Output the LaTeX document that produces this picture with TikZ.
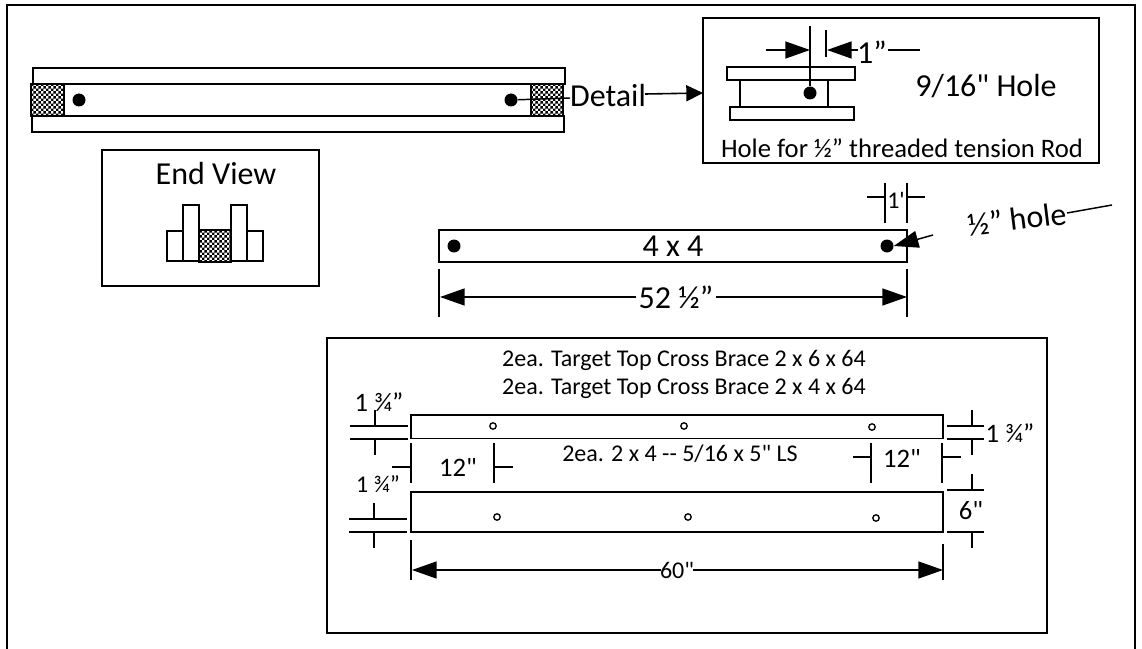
\documentclass[tikz,border=0pt]{standalone}
\usepackage{fontspec}
\newfontfamily\cf{Carlito}
\usetikzlibrary{arrows.meta,patterns}
\pgfdeclarepatternformonly{chk}{\pgfpointorigin}{\pgfqpoint{4pt}{4pt}}{\pgfqpoint{4pt}{4pt}}{
  \pgfpathrectangle{\pgfqpoint{0pt}{0pt}}{\pgfqpoint{2pt}{2pt}}
  \pgfpathrectangle{\pgfqpoint{2pt}{2pt}}{\pgfqpoint{2pt}{2pt}}
  \pgfusepath{fill}}
\tikzset{
  ln/.style={line width=1.2pt,black},
  thin ln/.style={line width=1.1pt,black},
  frame/.style={line width=1.5pt,black},
  tip/.style={-{Triangle[length=18.5pt,width=12.75pt]}},
  box/.style={draw,line width=1.4pt,inner sep=0pt,outer sep=0pt,fill=white},
  chkbox/.style={box,pattern=chk},
  txtA/.style={font=\cf\fontsize{24}{28}\selectfont,inner sep=0pt},
  txtB/.style={font=\cf\fontsize{20}{24}\selectfont,inner sep=0pt},
  txtC/.style={font=\cf\fontsize{18}{22}\selectfont,inner sep=0pt},
  dot/.style={circle,fill=black,inner sep=0pt,minimum size=9.75pt},
  hole/.style={circle,draw,line width=1pt,fill=white,inner sep=0pt,minimum size=4.8pt},
}
\newcommand{\rc}[6][box]{\node[#1,minimum width={(#5-#3)*0.75pt},minimum height={(#6-#4)*0.75pt}] (#2) at ({(#3+#5)/2},{(#4+#6)/2}) {};}
\newcommand{\vl}[3]{\draw[thin ln] (#1,#2) -- (#1,#3);}
\begin{document}
\begin{tikzpicture}[x=0.75pt,y=-0.75pt]
\useasboundingbox (0,0) rectangle (1142,649);
% outer frame
\draw[frame] (7,649) -- (7,5.5) -- (1135,5.5) -- (1135,649);
% top assembly
\rc{railA}{33}{68}{565}{84}
\rc{railB}{32}{116}{564}{132}
\rc{mid}{31}{84}{563}{116}
\rc[chkbox]{chkL}{31}{84}{64}{116}
\rc[chkbox]{chkR}{531}{84}{563}{116}
\node[dot] (dotL) at (79,100) {};
\node[dot] (dotR) at (511,100) {};
\node[txtA] (detail) at (608,96) {Detail};
\coordinate (detailIn) at (570,98);
\draw[thin ln] (dotR) -- (detailIn);
% detail box
\rc{dbox}{703}{18}{1099}{163}
\rc{dtop}{727}{67}{855}{80}
\rc{dmid}{740}{80}{828}{107}
\rc{dbot}{730}{107}{854}{120}
\node[dot] (ddot) at (810,93) {};
\coordinate (detailOut) at (645,94);
\draw[ln,-{Triangle[length=12.5pt,width=12pt]}] (detailOut) -- (dbox.west |- 0,93);
\coordinate (d1a) at (810,26);
\coordinate (d1b) at (826,30);
\coordinate (d1c) at (826,57);
\draw[thin ln] (d1a) -- (ddot);
\draw[thin ln] (d1b) -- (d1c);
\coordinate (d2a) at (766,50);
\coordinate (d2b) at (810,50);
\draw[thin ln,tip] (d2a) -- (d2b);
\node[txtA] (one) at (872,52) {1”};
\coordinate (d3a) at (858,50);
\coordinate (d3b) at (827,50);
\draw[thin ln,tip] (d3a) -- (d3b);
\coordinate (d4a) at (888,50);
\coordinate (d4b) at (920,50);
\draw[thin ln] (d4a) -- (d4b);
\node[txtA] (nine) at (986,86) {9/16" Hole};
\node[txtB] (holefor) at (902,148) {Hole for ½” threaded tension Rod};
% end view
\rc{ebox}{102}{150}{319}{286}
\node[txtA] (endv) at (216,174) {End View};
\rc{e1}{167}{231}{183}{261}
\rc{e2}{183}{205}{199}{261}
\rc{e4}{231}{205}{247}{261}
\rc{e5}{247}{231}{263}{261}
\rc[chkbox]{e3}{199}{230}{231}{262}
% 4x4
\rc{ff}{439}{230}{907}{262}
\node[dot] (ffL) at (454,246) {};
\node[dot] (ffR) at (887,246) {};
\node[txtA] (fft) at (673,246) {4 x 4};
\vl{885}{183}{223}
\vl{907}{183}{223}
\draw[thin ln] (867,197) -- (885,197);
\draw[thin ln] (907,197) -- (925,197);
\node[txtC] (onep) at (896,200) {1'};
\coordinate (pt) at (933,235);
\draw[thin ln,tip] (pt) -- (ffR.east);
\node[txtA,rotate=7] (holetxt) at (1017,219) {½” hole};
\coordinate (ha) at (1067,213);
\coordinate (hb) at (1112,205);
\draw[thin ln] (ha) -- (hb);
\vl{439}{269}{317}
\vl{907}{269}{317}
\node[txtA] (lenA) at (676,297) {52 ½”};
\coordinate (la) at (636,297);
\coordinate (lb) at (716,297);
\coordinate (lc) at (440,297);
\coordinate (ld) at (907,297);
\draw[thin ln,tip] (la) -- (lc);
\draw[thin ln,tip] (lb) -- (ld);
% bottom box
\rc{bbox}{327}{338}{1047}{633}
\node[txtC] (t1) at (684,360) {2ea. Target Top Cross Brace 2 x 6 x 64};
\node[txtC] (t2) at (684,388) {2ea. Target Top Cross Brace 2 x 4 x 64};
\rc{b1}{411}{415}{943}{438.5}
\rc{b2}{411}{492}{943}{532}
\node[hole] (h1) at (493,426) {};
\node[hole] (h2) at (684,426) {};
\node[hole] (h3) at (872,427) {};
\node[hole] (h4) at (497,517) {};
\node[hole] (h5) at (688,517) {};
\node[hole] (h6) at (876,518) {};
\node[txtC] (t3) at (680,454) {2ea. 2 x 4 -- 5/16 x 5" LS};
% left 1 3/4 upper
\node[txtB] (q1) at (379,402) {1 ¾”};
\draw[thin ln] (350,426) -- (408,426);
\draw[thin ln] (350,439) -- (408,439);
\vl{375}{410}{426}
\vl{375}{439}{455}
% left 1 3/4 lower
\node[txtC] (q2) at (378,484) {1 ¾”};
\draw[thin ln] (349,519) -- (407,519);
\draw[thin ln] (349,532) -- (407,532);
\vl{374}{503}{519}
\vl{374}{532}{548}
% left 12
\vl{411}{443}{483}
\draw[thin ln] (392,467) -- (411,467);
\node[txtB] (a12) at (458,467) {12"};
\vl{494}{443}{483}
\draw[thin ln] (494,467) -- (513,467);
% right 1 3/4
\draw[thin ln] (947,426) -- (984,426);
\draw[thin ln] (947,439) -- (984,439);
\vl{972}{410}{426}
\vl{972}{439}{455}
\node[txtB] (q3) at (1010,433) {1 ¾”};
% right 12
\vl{871}{443}{483}
\draw[thin ln] (853,457) -- (871,457);
\node[txtB] (b12) at (902,458) {12"};
\vl{942}{443}{483}
\draw[thin ln] (942,457) -- (961,457);
% 6
\draw[thin ln] (947,490) -- (984,490);
\draw[thin ln] (947,532) -- (984,532);
\vl{972}{474}{490}
\vl{972}{532}{548}
\node[txtB] (six) at (971,511) {6"};
% 60
\vl{411}{540}{580}
\vl{943}{544}{580}
\node[txtC] (sixty) at (677,570) {60"};
\coordinate (sa) at (661,570);
\coordinate (sb) at (693,570);
\coordinate (sc) at (412,570);
\coordinate (sd) at (943,570);
\draw[thin ln,tip] (sa) -- (sc);
\draw[thin ln,tip] (sb) -- (sd);
\end{tikzpicture}
\end{document}
